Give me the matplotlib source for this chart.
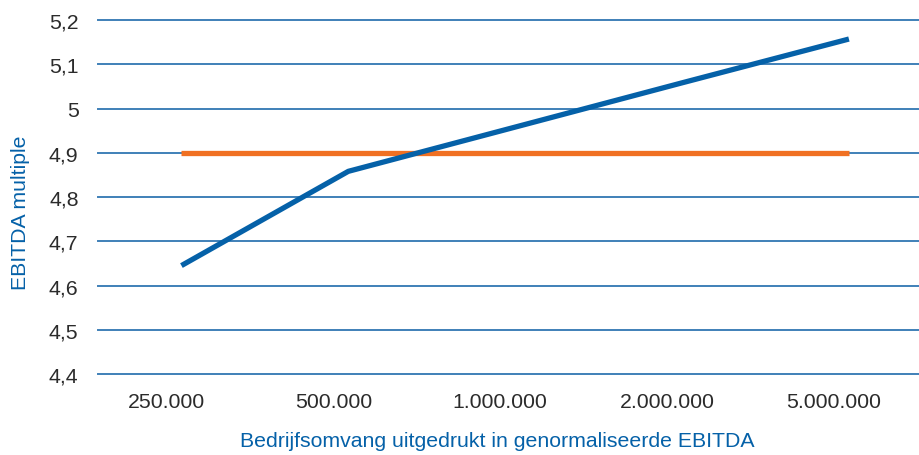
import matplotlib.pyplot as plt
import numpy as np

plt.rcParams['font.family'] = ['Liberation Sans', 'DejaVu Sans']

# data
categories = ["250.000", "500.000", "1.000.000", "2.000.000", "5.000.000"]
multiple = [4.645, 4.858, 4.958, 5.058, 5.157]
benchmark = [4.9, 4.9, 4.9, 4.9, 4.9]
yticks = [4.4, 4.5, 4.6, 4.7, 4.8, 4.9, 5.0, 5.1, 5.2]
ylabels = ["4,4", "4,5", "4,6", "4,7", "4,8", "4,9", "5", "5,1", "5,2"]

blue = "#0561a8"
orange = "#f07022"
grid = "#3f80b8"

fig = plt.figure(figsize=(9.19, 4.56), dpi=100)
ax = fig.add_axes([98 / 919, 1 - 375 / 456, 1 - 98 / 919, (375 - 21) / 456])

x = np.arange(len(categories))
ax.plot(x, benchmark, color=orange, lw=3.8, solid_capstyle="butt", zorder=3)
ax.plot(x, multiple, color=blue, lw=3.8, solid_capstyle="butt", zorder=4)

for y in yticks:
    ax.axhline(y, color=grid, lw=1.4, zorder=1, clip_on=False)

ax.set_xlim(-0.5, 4.42)
ax.set_ylim(4.4, 5.2)
ax.set_yticks(yticks)
ax.set_yticklabels(ylabels)
ax.set_xticks(x - 0.09)
ax.set_xticklabels(categories)
ax.tick_params(axis="both", length=0, labelsize=15.3, colors="#2b2b2b")
ax.tick_params(axis="y", pad=14)
ax.tick_params(axis="x", pad=13)
for s in ax.spines.values():
    s.set_visible(False)

fig.text(21 / 919, 1 - 213 / 456, "EBITDA multiple", rotation=90, color=blue,
         fontsize=15.3, ha="center", va="center")
fig.text(497 / 919, 1 - 442 / 456, "Bedrijfsomvang uitgedrukt in genormaliseerde EBITDA",
         color=blue, fontsize=15.3, ha="center", va="center")

fig.savefig("out.png", dpi=100)
